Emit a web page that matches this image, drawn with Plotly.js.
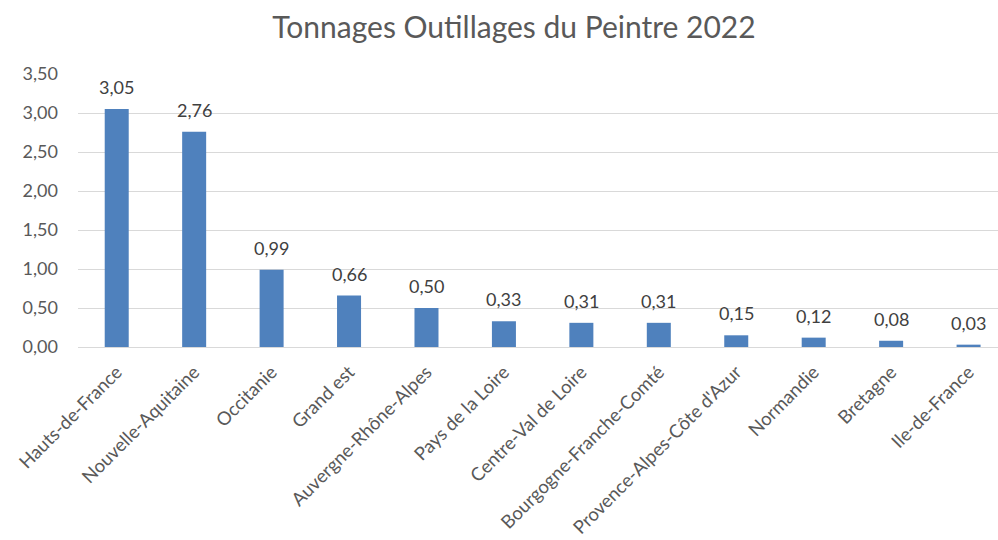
<!DOCTYPE html>
<html>
<head>
<meta charset="utf-8">
<script src="https://cdn.plot.ly/plotly-3.0.1.min.js"></script>
<style>html,body{margin:0;padding:0;background:#fff;}#chart{width:998px;height:540px;}</style>
</head>
<body>
<div id="chart"></div>
<script>
const regions = ["Hauts-de-France","Nouvelle-Aquitaine","Occitanie","Grand est","Auvergne-Rhône-Alpes","Pays de la Loire","Centre-Val de Loire","Bourgogne-Franche-Comté","Provence-Alpes-Côte d'Azur","Normandie","Bretagne","Ile-de-France"];
const tonnages = [3.05, 2.76, 0.99, 0.66, 0.50, 0.33, 0.31, 0.31, 0.15, 0.12, 0.08, 0.03];
const yTicks = [0, 0.5, 1, 1.5, 2, 2.5, 3, 3.5];

const font = "Lato, 'Open Sans', sans-serif";
const labels = regions.map((r, i) => ({
  x: r, y: tonnages[i], xref: 'x', yref: 'y',
  text: tonnages[i].toFixed(2).replace('.', ','),
  showarrow: false, yanchor: 'bottom', yshift: 9,
  font: {family: font, size: 18, color: '#404040'}
}));
Plotly.newPlot('chart', [{
  type: 'bar',
  x: regions,
  y: tonnages,
  marker: {color: '#4F81BD'},
  hoverinfo: 'none'
}], {
  width: 998, height: 540,
  separators: ', ',
  annotations: labels,
  title: {text: 'Tonnages Outillages du Peintre 2022', font: {family: font, size: 30, color: '#595959'}, x: 0.515, xanchor: 'center', y: 0.95, yanchor: 'middle'},
  margin: {l: 78, r: 0, t: 74, b: 193},
  bargap: 0.69,
  paper_bgcolor: '#fff', plot_bgcolor: '#fff',
  xaxis: {
    range: [-0.5, 11.38],
    tickangle: -45,
    tickfont: {family: font, size: 18.5, color: '#595959'},
    showline: true, linecolor: '#D9D9D9', linewidth: 1,
    ticks: '', showgrid: false, fixedrange: true, ticklabelstandoff: 6
  },
  yaxis: {
    range: [0, 3.5],
    tickvals: yTicks,
    tickformat: '.2f',
    tickfont: {family: font, size: 18, color: '#595959'},
    gridcolor: '#D9D9D9', gridwidth: 1,
    zeroline: false, showline: false, ticks: '', ticklabelstandoff: 19, fixedrange: true
  },
  showlegend: false
}, {displayModeBar: false, staticPlot: true});
</script>
</body>
</html>
